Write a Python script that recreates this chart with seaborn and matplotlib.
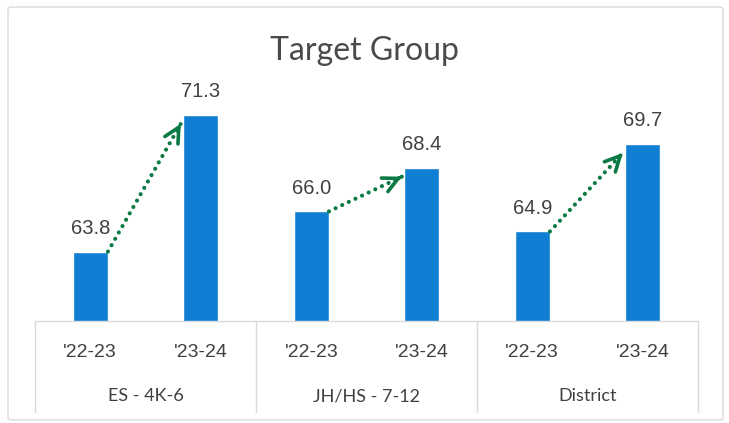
import matplotlib
matplotlib.use("Agg")
import matplotlib.pyplot as plt
import matplotlib.transforms as mtransforms
from matplotlib.patches import FancyBboxPatch
import seaborn as sns
import pandas as pd

# ---- data ----
groups = ["ES - 4K-6", "JH/HS - 7-12", "District"]
years = ["'22-23", "'23-24"]
values_2223 = [63.8, 66.0, 64.9]
values_2324 = [71.3, 68.4, 69.7]
title = "Target Group"

rows = []
for g, a, b in zip(groups, values_2223, values_2324):
    rows.append({"group": g, "year": years[0], "value": a})
    rows.append({"group": g, "year": years[1], "value": b})
df = pd.DataFrame(rows)
df["cat"] = df["group"] + "|" + df["year"]
order = list(df["cat"])

sns.set_theme(style="white")
plt.rcParams["font.family"] = ["Liberation Sans", "DejaVu Sans"]

BLUE = "#0F7ED3"
GREEN = "#0B7A45"
TXT = "#404040"
GRID = "#DADADA"

fig = plt.figure(figsize=(7.29, 4.23), dpi=100)
ax = fig.add_axes([35 / 729, 1 - 321 / 423, 663 / 729, (321 - 65.2) / 423])

sns.barplot(data=df, x="cat", y="value", order=order, color=BLUE,
            width=0.32, saturation=1, ax=ax, errorbar=None)
ax.set_ylim(60, 74)
ax.set_xlim(-0.5, len(order) - 0.5)

# value labels
for i, v in enumerate(df["value"]):
    ax.annotate(f"{v:.1f}", (i, v), xytext=(0, 12.5), textcoords="offset points",
                ha="center", va="baseline", fontsize=14.5, color=TXT,
                family=["Liberation Sans", "DejaVu Sans"])

# arrows: dotted shaft + open head
hw = 0.16
for k in range(len(groups)):
    i0, i1 = 2 * k, 2 * k + 1
    v0, v1 = values_2223[k], values_2324[k]
    x0, y0 = i0 + hw, v0
    x1, y1 = i1 - hw - 0.02, v1 - 0.5
    ax.plot([x0, x1], [y0, y1], color=GREEN, lw=3,
            linestyle=(0, (0.01, 1.75)), dash_capstyle="round")
    f = 0.04
    ax.annotate("", xy=(x1, y1), xytext=(x1 - f * (x1 - x0), y1 - f * (y1 - y0)),
                arrowprops=dict(arrowstyle="->,head_length=0.9,head_width=0.45",
                                lw=2.6, color=GREEN, shrinkA=0, shrinkB=0))

# axes styling
for s in ["top", "right", "left"]:
    ax.spines[s].set_visible(False)
ax.spines["bottom"].set_color(GRID)
ax.spines["bottom"].set_linewidth(1)
ax.set_yticks([])
ax.set_ylabel("")
ax.set_xlabel("")
ax.set_xticks(range(len(order)))
ax.set_xticklabels([y for _ in groups for y in years], fontsize=14, color=TXT)
ax.tick_params(axis="x", length=0, pad=16.5)

# group labels and separators
trans = mtransforms.blended_transform_factory(ax.transData, ax.transAxes)
ax_h = 321 - 65.2
for k, g in enumerate(groups):
    ax.text(2 * k + 0.5, -(396 - 321) / ax_h, g, transform=trans, ha="center",
            va="center", fontsize=13, color=TXT,
            family=["Lato", "DejaVu Sans"])
for xs in [-0.5, 1.5, 3.5, 5.5]:
    ax.plot([xs, xs], [0, -(412 - 321) / ax_h], transform=trans, color=GRID,
            lw=1, clip_on=False)

fig.text(0.5, 1 - 60 / 423, title, ha="center", va="baseline", fontsize=23,
         color="#4a4a4a", family=["Lato", "DejaVu Sans"])

# outer border
border = FancyBboxPatch((8 / 729, 1 - 420 / 423), (723 - 8) / 729, (420 - 7) / 423,
                        boxstyle="round,pad=0,rounding_size=0.006",
                        transform=fig.transFigure, fill=False, ec=GRID, lw=1.0)
fig.patches.append(border)

fig.savefig("out.png", dpi=100)
